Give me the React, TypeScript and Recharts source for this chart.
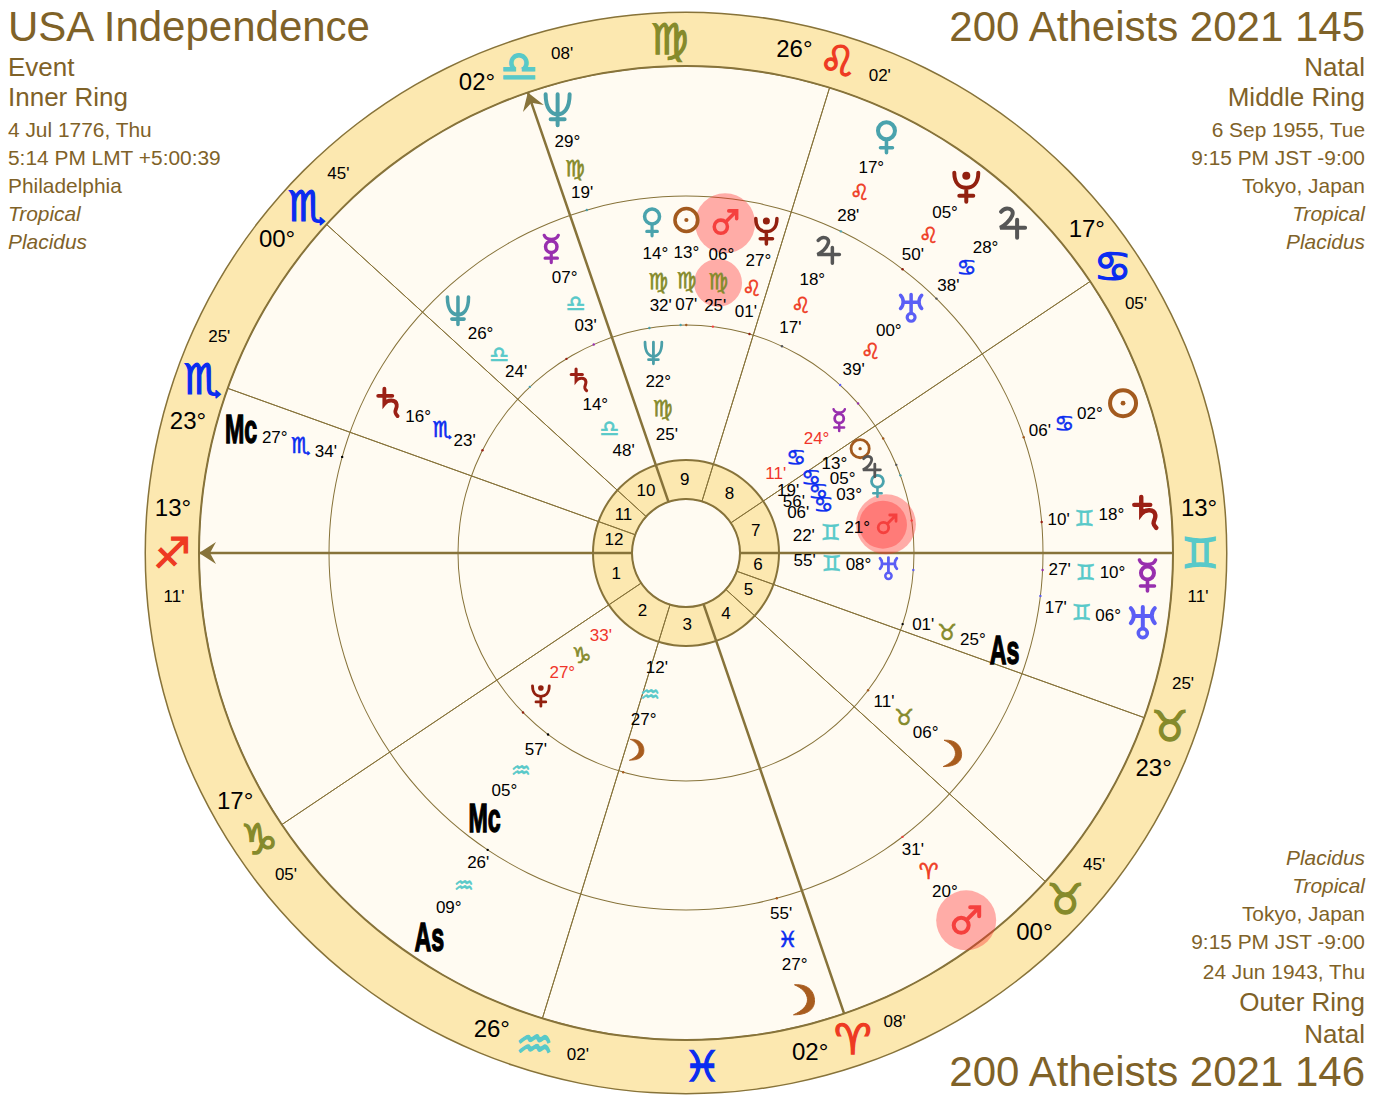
import { PieChart, Pie, ScatterChart, Scatter, XAxis, YAxis } from "recharts";

const WIDTH = 1374;
const HEIGHT = 1108;
const CX = 686;
const CY = 553;

const BROWN = "#7f6228";
const LINE = "#87733a";
const RING = "#fce8b0";
const CREAM = "#fffbf2";

const signs = ["♈", "♉", "♊", "♋", "♌", "♍", "♎", "♏", "♐", "♑", "♒", "♓"];
const signColors = ["#ee3a22", "#858a2b", "#58c9c9", "#0a2cf0", "#ee3a22", "#858a2b", "#58c9c9", "#0a2cf0", "#ee3a22", "#858a2b", "#58c9c9", "#0a2cf0"];

const bodyColors: Record<string, string> = {
  Sun: "#a35a1e", Moon: "#a85c1e", Mercury: "#982fae", Venus: "#4aa3ad", Mars: "#f5403e", Jupiter: "#565656",
  Saturn: "#9b2015", Uranus: "#5b5ef5", Neptune: "#4a9fa8", Pluto: "#92200f", As: "#000", Mc: "#000",
};

// house cusps, from the first house round
const cuspSigns = ["♐", "♑", "♒", "♈", "♉", "♉", "♊", "♋", "♌", "♎", "♏", "♏"];
const cuspDegrees = [13, 17, 26, 2, 0, 23, 13, 17, 26, 2, 0, 23];
const cuspMinutes = [11, 5, 2, 8, 45, 25, 11, 5, 2, 8, 45, 25];
const houseNumbers = [1, 2, 3, 4, 5, 6, 7, 8, 9, 10, 11, 12];
const interceptedSigns = ["♍", "♓"];

const outerBodies = ["Sun", "Moon", "Mercury", "Venus", "Mars", "Jupiter", "Saturn", "Uranus", "Neptune", "Pluto", "As", "Mc"];
const outerSigns = ["♋", "♓", "♊", "♌", "♈", "♋", "♊", "♊", "♍", "♌", "♒", "♏"];
const outerDegrees = [2, 27, 10, 17, 20, 28, 18, 6, 29, 5, 9, 27];
const outerMinutes = [6, 55, 27, 28, 31, 38, 10, 17, 19, 50, 26, 34];
const outerFan = [0, 0, 0, 0, 0, 0, 0, -1.7, 0, 0, 0, 0];

const middleBodies = ["Sun", "Moon", "Mercury", "Venus", "Mars", "Jupiter", "Saturn", "Uranus", "Neptune", "Pluto", "As", "Mc"];
const middleSigns = ["♍", "♉", "♎", "♍", "♍", "♌", "♏", "♌", "♎", "♌", "♉", "♒"];
const middleDegrees = [13, 6, 7, 14, 6, 18, 16, 0, 26, 27, 25, 5];
const middleMinutes = [7, 11, 3, 32, 25, 17, 23, 39, 24, 1, 1, 57];
const middleFan = [0, 0, 0, 4.5, 0, 0, 0, 0, 0, 2.2, 1.2, 0];

const innerBodies = ["Sun", "Moon", "Mercury", "Venus", "Mars", "Jupiter", "Saturn", "Uranus", "Neptune", "Pluto"];
const innerSigns = ["♋", "♒", "♋", "♋", "♊", "♋", "♎", "♊", "♍", "♑"];
const innerDegrees = [13, 27, 24, 3, 21, 5, 14, 8, 22, 27];
const innerMinutes = [19, 12, 11, 6, 22, 56, 48, 55, 25, 33];
const innerFan = [0.8, 1.8, 0, -0.5, 0, 2.3, 0, 0, 0, 0];
const innerRetro = ["Mercury", "Pluto"];

const topLeft = ["USA Independence", "Event", "Inner Ring", "4 Jul 1776, Thu", "5:14 PM LMT +5:00:39", "Philadelphia", "Tropical", "Placidus"];
const topRight = ["200 Atheists 2021 145", "Natal", "Middle Ring", "6 Sep 1955, Tue", "9:15 PM JST -9:00", "Tokyo, Japan", "Tropical", "Placidus"];
const bottomRight = ["Placidus", "Tropical", "Tokyo, Japan", "9:15 PM JST -9:00", "24 Jun 1943, Thu", "Outer Ring", "Natal", "200 Atheists 2021 146"];

const topBaselines = [42, 77, 107, 137, 165, 193, 221, 249];
const topSizes = [42, 26, 26, 20.9, 20.9, 20.9, 20.9, 20.9];
const bottomBaselines = [865, 893, 921, 949, 979, 1012, 1044, 1087];
const bottomSizes = [20.9, 20.9, 20.9, 20.9, 20.9, 26, 26, 42];

const longitude = (sign: string, deg: number, min: number) => signs.indexOf(sign) * 30 + deg + min / 60;
const ascendant = longitude(cuspSigns[0], cuspDegrees[0], cuspMinutes[0]);
const screenAngle = (lon: number) => (((180 + lon - ascendant) % 360) + 360) % 360;
const polar = (r: number, angle: number) => ({
  x: r * Math.cos((angle * Math.PI) / 180),
  y: r * Math.sin((angle * Math.PI) / 180),
});

const cuspAngles = cuspSigns.map((s, i) => screenAngle(longitude(s, cuspDegrees[i], cuspMinutes[i])));
const houseSpans = cuspAngles.map((a, i) => ({
  house: houseNumbers[i],
  value: ((cuspAngles[(i + 1) % 12] - a) % 360 + 360) % 360,
}));
const whole = [{ value: 1 }];

type Mark = { x: number; y: number; kind: string; text?: string; size?: number; color?: string; font?: string; angle?: number; r?: number; body?: string };

const LABEL_FONT = "'Liberation Sans', Arial, sans-serif";
const GLYPH_FONT = "'DejaVu Sans', sans-serif";
const ANGLE_FONT = "'Liberation Sans', sans-serif";

function textMark(r: number, angle: number, text: string, size: number, color: string, font: string, kind = "text"): Mark {
  return { ...polar(r, angle), kind, text, size, color, font };
}

const halos: Mark[] = [];
const ticks: Mark[] = [];
const labels: Mark[] = [];

function addRing(
  bodies: string[], ringSigns: string[], degrees: number[], minutes: number[], fan: number[],
  radii: number[], tickRadius: number, glyphScale: number, retro: string[],
) {
  bodies.forEach((body, i) => {
    const angle = screenAngle(longitude(ringSigns[i], degrees[i], minutes[i]));
    const shown = angle + fan[i];
    const textColor = retro.includes(body) ? "#f0352a" : "#000";
    ticks.push({ ...polar(tickRadius, angle), kind: "dot", color: bodyColors[body] });
    if (body === "As" || body === "Mc") {
      labels.push(textMark(radii[0], shown, body, 40, "#000", ANGLE_FONT, "angle"));
    } else {
      labels.push({ ...polar(radii[0], shown), kind: "icon", body, size: glyphScale, color: bodyColors[body] });
    }
    labels.push(textMark(radii[1], shown, `${String(degrees[i]).padStart(2, "0")}°`, 17, textColor, LABEL_FONT));
    labels.push(textMark(radii[2], shown, ringSigns[i], 22, signColors[signs.indexOf(ringSigns[i])], GLYPH_FONT));
    labels.push(textMark(radii[3], shown, `${String(minutes[i]).padStart(2, "0")}'`, 17, textColor, LABEL_FONT));
  });
}

addRing(innerBodies, innerSigns, innerDegrees, innerMinutes, innerFan, [203, 173, 146, 119], 228, 0.7, innerRetro);
addRing(middleBodies, middleSigns, middleDegrees, middleMinutes, middleFan, [333, 300, 273, 248], 228, 0.88, []);
addRing(outerBodies, outerSigns, outerDegrees, outerMinutes, outerFan, [462, 427, 400, 374], 357, 1, []);

// Mars is picked out on all three wheels, and its sign on the middle one
const marsOf = (ringSigns: string[], degrees: number[], minutes: number[], bodies: string[]) => {
  const i = bodies.indexOf("Mars");
  return screenAngle(longitude(ringSigns[i], degrees[i], minutes[i]));
};
const marsOuter = marsOf(outerSigns, outerDegrees, outerMinutes, outerBodies);
const marsMiddle = marsOf(middleSigns, middleDegrees, middleMinutes, middleBodies);
const marsInner = marsOf(innerSigns, innerDegrees, innerMinutes, innerBodies);
halos.push({ ...polar(462, marsOuter), kind: "halo", r: 30 });
halos.push({ ...polar(332, marsMiddle), kind: "halo", r: 30 });
halos.push({ ...polar(272, marsMiddle), kind: "halo", r: 24 });
halos.push({ ...polar(202, marsInner), kind: "halo", r: 30 });
halos.push({ ...polar(199, marsInner), kind: "halo", r: 24 });

cuspAngles.forEach((angle, i) => {
  const upper = angle < 180 && angle >= 0;
  const degAngle = upper ? angle + 5 : angle - 5;
  const minAngle = upper ? angle - 5 : angle + 5;
  labels.push(textMark(515, degAngle, `${String(cuspDegrees[i]).padStart(2, "0")}°`, 24, "#000", LABEL_FONT));
  labels.push(textMark(514, angle, cuspSigns[i], 42, signColors[signs.indexOf(cuspSigns[i])], GLYPH_FONT));
  labels.push(textMark(514, minAngle, `${String(cuspMinutes[i]).padStart(2, "0")}'`, 17, "#000", LABEL_FONT));
  const mid = angle + houseSpans[i].value / 2;
  labels.push(textMark(73, mid, String(houseNumbers[i]), 17, "#000", LABEL_FONT));
});
interceptedSigns.forEach((s) => {
  const angle = screenAngle(longitude(s, 15, 0));
  labels.push(textMark(514, angle, s, 42, signColors[signs.indexOf(s)], GLYPH_FONT));
});

const ascAngle = cuspAngles[0];
const mcAngle = cuspAngles[9];
const axisAngles = [ascAngle, ascAngle + 180, mcAngle, mcAngle + 180];
const arrows: Mark[] = [ascAngle, mcAngle].map((a) => ({ ...polar(487, a), kind: "arrow", angle: a }));
const marks = [...halos, ...ticks, ...arrows, ...labels];

// planet symbols, heavier than any installed font draws them
function BodyIcon({ body, color }: { body: string; color: string }) {
  const line = { fill: "none", stroke: color, strokeWidth: 3.6, strokeLinecap: "round" as const };
  switch (body) {
    case "Sun":
      return (
        <>
          <circle r={13} {...line} strokeWidth={4} />
          <circle r={2.4} fill={color} />
        </>
      );
    case "Moon":
      return <path d="M-9,-15 C6,-16 11,-7 11,1 C11,9 5,15 -10,15 C-1,11 4,6 4,0 C4,-7 -2,-12 -9,-15 Z" fill={color} stroke={color} strokeWidth={1} />;
    case "Mercury":
      return (
        <>
          <circle cy={-2} r={6.5} {...line} strokeWidth={4} />
          <path d="M-8,-15 C-6,-9 6,-9 8,-15 M0,5 V16 M-7,11 H7" {...line} />
        </>
      );
    case "Venus":
      return (
        <>
          <circle cy={-6} r={8.5} {...line} strokeWidth={4} />
          <path d="M0,3 V16 M-6,11 H6" {...line} />
        </>
      );
    case "Mars":
      return (
        <>
          <circle cx={-5} cy={5} r={7.5} {...line} strokeWidth={4} />
          <path d="M1,-1 L12,-12 M4,-13 H13 V-4" {...line} strokeWidth={4} />
        </>
      );
    case "Jupiter":
      return <path d="M-9,-12 C-4,-18 5,-15 2,-8 C0,-3 -6,2 -10,4 H15 M7,-4 V14" {...line} strokeWidth={4} />;
    case "Saturn":
      return <path d="M-12,-8 H4 M-5,-16 V1 C-1,-4 8,-4 9,2 C10,8 4,9 10,15" {...line} strokeWidth={4.4} />;
    case "Uranus":
      return (
        <>
          <path d="M-12,-14 C-8,-10 -8,-3 -12,1 M12,-14 C8,-10 8,-3 12,1 M0,-15 V6 M-9,-6 H9" {...line} strokeWidth={4} />
          <circle cy={11} r={4.5} {...line} />
        </>
      );
    case "Neptune":
      return <path d="M-12,-15 C-12,0 -6,5 0,5 C6,5 12,0 12,-15 M0,-15 V16 M-7,10 H7" {...line} strokeWidth={4} />;
    case "Pluto":
      return (
        <>
          <circle cy={-10} r={4} fill={color} />
          <path d="M-12,-13 C-12,-2 -6,2 0,2 C6,2 12,-2 12,-13 M0,2 V16 M-7,10 H7" {...line} strokeWidth={4} />
        </>
      );
    default:
      return null;
  }
}

function renderMark(props: any) {
  const { cx, cy, payload } = props;
  const m: Mark = payload;
  if (m.kind === "halo") return <circle cx={cx} cy={cy} r={m.r} fill="rgba(255,45,45,0.38)" />;
  if (m.kind === "dot") return <circle cx={cx} cy={cy} r={1.2} fill={m.color} />;
  if (m.kind === "arrow") {
    return (
      <polygon
        points="0,0 -17,-11 -11,0 -17,11"
        fill={LINE}
        transform={`translate(${cx} ${cy}) rotate(${-(m.angle as number)})`}
      />
    );
  }
  if (m.kind === "icon") {
    return (
      <g transform={`translate(${cx} ${cy}) scale(${m.size})`}>
        <BodyIcon body={m.body as string} color={m.color as string} />
      </g>
    );
  }
  if (m.kind === "angle") {
    return (
      <text
        transform={`translate(${cx} ${cy}) scale(0.58 1)`}
        textAnchor="middle"
        dominantBaseline="central"
        fontFamily={m.font}
        fontSize={m.size}
        fontWeight="bold"
        fill="#000"
        stroke="#000"
        strokeWidth={1.4}
      >
        {m.text}
      </text>
    );
  }
  const isGlyph = m.font === GLYPH_FONT;
  return (
    <text
      x={cx}
      y={(cy as number) - (isGlyph ? 0 : 1)}
      textAnchor="middle"
      dominantBaseline="central"
      fontFamily={m.font}
      fontSize={m.size}
      fill={m.color}
      stroke={isGlyph ? m.color : "none"}
      strokeWidth={isGlyph ? ((m.size as number) > 30 ? 1.3 : 0.6) : 0}
    >
      {isGlyph ? `${m.text}\uFE0E` : m.text}
    </text>
  );
}

function Corner({ rows, baselines, sizes, right }: { rows: string[]; baselines: number[]; sizes: number[]; right: boolean }) {
  return (
    <>
      {rows.map((row, i) => (
        <div
          key={row + i}
          style={{
            position: "absolute",
            top: baselines[i] - sizes[i] * 0.9215,
            left: right ? undefined : 8,
            right: right ? 9 : undefined,
            fontFamily: LABEL_FONT,
            fontSize: sizes[i],
            lineHeight: `${sizes[i] * 1.15}px`,
            color: BROWN,
            fontStyle: row === "Tropical" || row === "Placidus" ? "italic" : "normal",
            whiteSpace: "nowrap",
          }}
        >
          {row}
        </div>
      ))}
    </>
  );
}

export default function App() {
  return (
    <div style={{ position: "absolute", left: 0, top: 0, width: WIDTH, height: HEIGHT, background: "#fff", overflow: "hidden" }}>
      <div style={{ position: "absolute", left: 0, top: 0 }}>
        <PieChart width={WIDTH} height={HEIGHT} margin={{ top: 0, right: 0, bottom: 0, left: 0 }}>
          <Pie data={whole} dataKey="value" cx={CX} cy={CY} innerRadius={487} outerRadius={541} fill={RING} stroke="none" isAnimationActive={false} />
          <Pie data={whole} dataKey="value" cx={CX} cy={CY} innerRadius={0} outerRadius={487} fill={CREAM} stroke="none" isAnimationActive={false} />
          <Pie data={whole} dataKey="value" cx={CX} cy={CY} innerRadius={540} outerRadius={541.5} fill={LINE} stroke="none" isAnimationActive={false} />
          <Pie data={whole} dataKey="value" cx={CX} cy={CY} innerRadius={486} outerRadius={488} fill={LINE} stroke="none" isAnimationActive={false} />
          <Pie data={whole} dataKey="value" cx={CX} cy={CY} innerRadius={356.5} outerRadius={357.5} fill={LINE} stroke="none" isAnimationActive={false} />
          <Pie data={whole} dataKey="value" cx={CX} cy={CY} innerRadius={227.5} outerRadius={228.5} fill={LINE} stroke="none" isAnimationActive={false} />
          <Pie data={whole} dataKey="value" cx={CX} cy={CY} innerRadius={54} outerRadius={93} fill={RING} stroke="none" isAnimationActive={false} />
          <Pie data={houseSpans} dataKey="value" cx={CX} cy={CY} innerRadius={54} outerRadius={487} startAngle={180} endAngle={540} fill="transparent" stroke={LINE} strokeWidth={1} isAnimationActive={false} />
          <Pie data={whole} dataKey="value" cx={CX} cy={CY} innerRadius={53} outerRadius={55} fill={LINE} stroke="none" isAnimationActive={false} />
          <Pie data={whole} dataKey="value" cx={CX} cy={CY} innerRadius={92} outerRadius={94} fill={LINE} stroke="none" isAnimationActive={false} />
        </PieChart>
      </div>
      <div style={{ position: "absolute", left: 0, top: 0 }}>
        <ScatterChart width={WIDTH} height={HEIGHT} margin={{ top: 0, right: 0, bottom: 0, left: 0 }}>
          <XAxis type="number" dataKey="x" domain={[-CX, WIDTH - CX]} hide allowDataOverflow />
          <YAxis type="number" dataKey="y" domain={[CY - HEIGHT, CY]} hide allowDataOverflow />
          {axisAngles.map((a) => (
            <Scatter
              key={a}
              data={[polar(54, a), polar(487, a)]}
              line={{ stroke: LINE, strokeWidth: 2.5 }}
              shape={() => <g />}
              isAnimationActive={false}
            />
          ))}
          <Scatter data={marks} shape={renderMark} isAnimationActive={false} />
        </ScatterChart>
      </div>
      <Corner rows={topLeft} baselines={topBaselines} sizes={topSizes} right={false} />
      <Corner rows={topRight} baselines={topBaselines} sizes={topSizes} right />
      <Corner rows={bottomRight} baselines={bottomBaselines} sizes={bottomSizes} right />
    </div>
  );
}
